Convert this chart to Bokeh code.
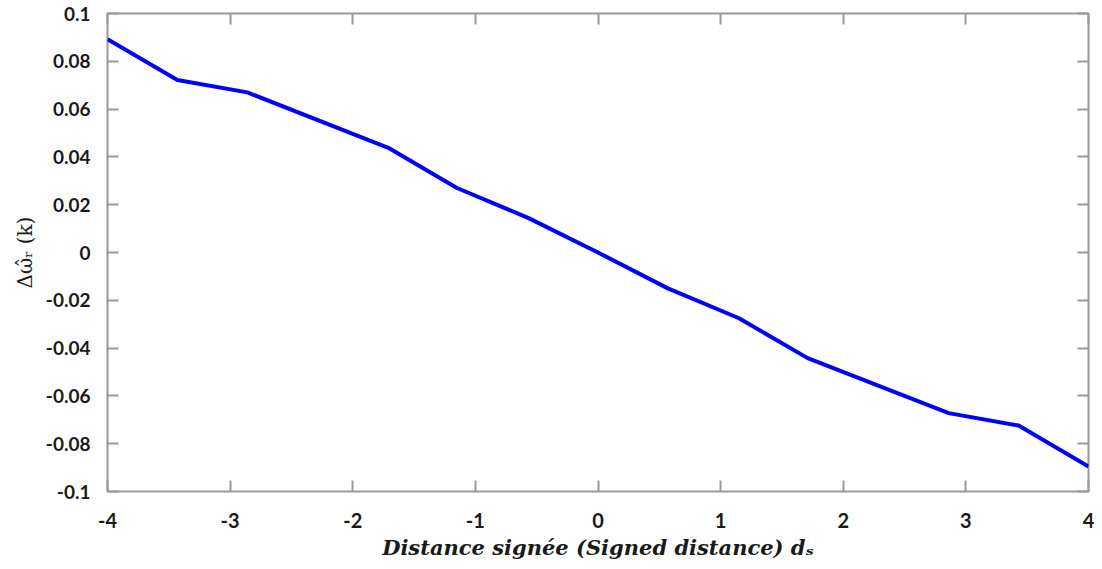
from bokeh.plotting import figure
from bokeh.models import LinearAxis, FixedTicker, CustomJSTickFormatter, Range1d
from bokeh.embed import file_html
from bokeh.resources import INLINE

# Data
ds = [-4.0, -3.43, -2.86, -1.71, -1.15, -0.57, 0.0, 0.57, 1.15, 1.71, 2.86, 3.43, 4.0]
delta_omega = [0.0892, 0.0722, 0.0670, 0.0438, 0.0270, 0.0145, 0.0, -0.0150, -0.0275,
               -0.0442, -0.0672, -0.0724, -0.0895]

x_ticks = [-4, -3, -2, -1, 0, 1, 2, 3, 4]
y_ticks = [-0.1, -0.08, -0.06, -0.04, -0.02, 0.0, 0.02, 0.04, 0.06, 0.08, 0.1]

x_label = "Distance signée (Signed distance) dₛ"
y_label = "Δω̂ᵣ (k)"

p = figure(width=1100, height=567, output_backend="svg", toolbar_location=None,
           x_range=Range1d(-4, 4), y_range=Range1d(-0.1, 0.1),
           min_border_left=107, min_border_right=12, min_border_top=13, min_border_bottom=76,
           x_axis_location=None, y_axis_location=None)

p.grid.visible = False
p.outline_line_color = "#9a9a9a"
p.outline_line_width = 2
p.background_fill_color = "white"
p.border_fill_color = "white"

tick_font = "Lato"
axis_col = "#9a9a9a"

xfmt = CustomJSTickFormatter(code="return Math.round(tick).toString();")
yfmt = CustomJSTickFormatter(code="return (Math.round(tick*100)/100).toString();")
blank = CustomJSTickFormatter(code="return '';")

def style_axis(ax, show_labels):
    ax.axis_line_color = None
    ax.major_tick_line_color = axis_col
    ax.major_tick_line_width = 2
    ax.major_tick_in = 11
    ax.major_tick_out = 0
    ax.minor_tick_line_color = None
    if show_labels:
        ax.major_label_text_font = tick_font
        ax.major_label_text_font_style = "bold"
        ax.major_label_text_font_size = "19px"
        ax.major_label_text_color = "#1a1a1a"
    else:
        ax.major_label_standoff = 0

xb = LinearAxis(ticker=FixedTicker(ticks=x_ticks), formatter=xfmt)
style_axis(xb, True)
xb.major_label_text_font_size = "20px"
xb.major_label_standoff = 21
xb.axis_label = x_label
xb.axis_label_text_font = "DejaVu Serif"
xb.axis_label_text_font_style = "bold italic"
xb.axis_label_text_font_size = "21px"
xb.axis_label_text_color = "#1a1a1a"
xb.axis_label_standoff = 4
p.add_layout(xb, "below")

yl = LinearAxis(ticker=FixedTicker(ticks=y_ticks), formatter=yfmt)
style_axis(yl, True)
yl.major_label_standoff = 17
yl.axis_label = y_label
yl.axis_label_text_font = "DejaVu Serif"
yl.axis_label_text_font_style = "normal"
yl.axis_label_text_font_size = "20px"
yl.axis_label_text_color = "#1a1a1a"
yl.axis_label_standoff = 6
p.add_layout(yl, "left")

xt = LinearAxis(ticker=FixedTicker(ticks=x_ticks), formatter=blank)
style_axis(xt, False)
p.add_layout(xt, "above")

yr = LinearAxis(ticker=FixedTicker(ticks=y_ticks), formatter=blank)
style_axis(yr, False)
p.add_layout(yr, "right")

p.line(ds, delta_omega, line_color="#0000ff", line_width=4)

open("out.html", "w").write(file_html(p, INLINE))
